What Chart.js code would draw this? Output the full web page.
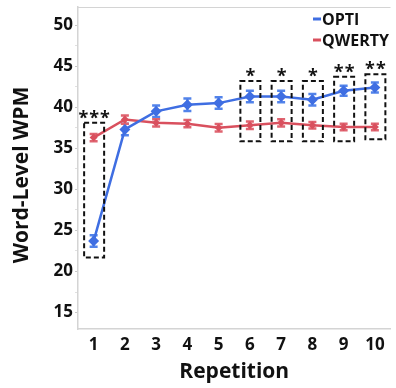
<!DOCTYPE html>
<html>
<head>
<meta charset="utf-8">
<script src="https://cdn.jsdelivr.net/npm/chart.js@4.4.1/dist/chart.umd.min.js"></script>
<style>
  html, body { margin: 0; padding: 0; background: #fff; }
  #wrap { width: 396px; height: 388px; }
</style>
</head>
<body>
<div id="wrap"><canvas id="wpmChart" width="396" height="388"></canvas></div>
<script>
/* Word-level WPM per repetition */
const repetitions = ['1', '2', '3', '4', '5', '6', '7', '8', '9', '10'];
const optiWpm   = [23.7, 37.3, 39.5, 40.3, 40.5, 41.3, 41.3, 40.9, 42.0, 42.4];
const optiErr   = [0.7, 0.7, 0.7, 0.75, 0.7, 0.7, 0.7, 0.7, 0.6, 0.6];
const qwertyWpm = [36.3, 38.5, 38.1, 38.0, 37.5, 37.8, 38.1, 37.8, 37.6, 37.6];
const qwertyErr = [0.45, 0.5, 0.45, 0.45, 0.45, 0.45, 0.45, 0.4, 0.4, 0.4];
const yMajorTicks = [15, 20, 25, 30, 35, 40, 45, 50];
const yMinorTicks = [17.5, 22.5, 27.5, 32.5, 37.5, 42.5, 47.5];
// significance boxes (value range per repetition, null = none)
const sigTop    = [38.1, null, null, null, null, 43.2, 43.2, 43.2, 43.7, 44.0];
const sigBottom = [21.7, null, null, null, null, 35.85, 35.85, 35.85, 35.85, 36.1];
const sigStars  = ['***', '', '', '', '', '*', '*', '*', '**', '**'];
const yTitle = 'Word-Level WPM';

const BLUE = '#3f6ee2';
const RED = '#d9505e';
const FONT = '"Open Sans", "Noto Sans", sans-serif';

const errorBars = {
  id: 'errorBars',
  beforeDatasetsDraw(chart) {
    const ctx = chart.ctx;
    const y = chart.scales.y;
    chart.data.datasets.forEach((ds, i) => {
      const meta = chart.getDatasetMeta(i);
      ctx.save();
      ctx.strokeStyle = ds.errColor;
      ctx.lineWidth = 2.5;
      meta.data.forEach((pt, j) => {
        const v = ds.data[j], e = ds.errors[j];
        const y1 = y.getPixelForValue(v + e), y2 = y.getPixelForValue(v - e);
        ctx.beginPath();
        ctx.moveTo(pt.x, y1); ctx.lineTo(pt.x, y2);
        ctx.moveTo(pt.x - 4, y1); ctx.lineTo(pt.x + 4, y1);
        ctx.moveTo(pt.x - 4, y2); ctx.lineTo(pt.x + 4, y2);
        ctx.stroke();
      });
      ctx.restore();
    });
  }
};

const extras = {
  id: 'extras',
  afterDraw(chart) {
    const ctx = chart.ctx;
    const a = chart.chartArea;
    const x = chart.scales.x, y = chart.scales.y;
    ctx.save();
    // top frame line
    ctx.strokeStyle = '#d4d4d4';
    ctx.lineWidth = 1;
    ctx.beginPath(); ctx.moveTo(a.left, a.top + 0.5); ctx.lineTo(a.right, a.top + 0.5); ctx.stroke();

    // y axis title (sits a bit below the axis centre in the original)
    ctx.save();
    ctx.translate(22, 175);
    ctx.rotate(-Math.PI / 2);
    ctx.font = 'bold 21px ' + FONT;
    ctx.fillStyle = '#111';
    ctx.textAlign = 'center';
    ctx.textBaseline = 'middle';
    ctx.fillText(yTitle, 0, 0);
    ctx.restore();

    // significance boxes + stars
    sigTop.forEach((t, i) => {
      if (t === null) return;
      const cx = x.getPixelForValue(i);
      const top = y.getPixelForValue(t), bot = y.getPixelForValue(sigBottom[i]);
      ctx.strokeStyle = '#111';
      ctx.lineWidth = 2;
      ctx.setLineDash([5, 3]);
      ctx.strokeRect(cx - 9.5, top, 20, bot - top);
      ctx.setLineDash([]);
      ctx.fillStyle = '#111';
      ctx.font = 'bold 18px ' + FONT;
      ctx.textAlign = 'center';
      ctx.textBaseline = 'alphabetic';
      ctx.letterSpacing = '1px';
      ctx.fillText(sigStars[i], cx + 1, top + 1);
      ctx.letterSpacing = '0px';
    });

    // legend
    ctx.font = 'bold 16px ' + FONT;
    ctx.textAlign = 'left';
    ctx.textBaseline = 'middle';
    chart.data.datasets.forEach((ds, i) => {
      const ly = 19 + i * 21;
      ctx.strokeStyle = ds.borderColor;
      ctx.lineWidth = 3;
      ctx.beginPath(); ctx.moveTo(313, ly); ctx.lineTo(321, ly); ctx.stroke();
      ctx.fillStyle = '#111';
      ctx.fillText(ds.label, 322, ly + 1);
    });
    ctx.restore();
  }
};

new Chart(document.getElementById('wpmChart'), {
  type: 'line',
  data: {
    labels: repetitions,
    datasets: [
      { label: 'OPTI', data: optiWpm, errors: optiErr, errColor: '#5283ea', borderColor: BLUE, backgroundColor: BLUE,
        borderWidth: 2.5, pointStyle: 'rectRot', pointRadius: 5.5, pointBorderWidth: 0, tension: 0 },
      { label: 'QWERTY', data: qwertyWpm, errors: qwertyErr, errColor: '#df6470', borderColor: RED, backgroundColor: RED,
        borderWidth: 2.5, pointStyle: 'rectRot', pointRadius: 4, pointBorderWidth: 0, tension: 0 }
    ]
  },
  options: {
    responsive: false,
    animation: false,
    layout: { padding: { top: 7, right: 0, left: 0, bottom: 0 } },
    plugins: { legend: { display: false }, tooltip: { enabled: false } },
    scales: {
      x: {
        type: 'category',
        offset: true,
        grid: { display: false, drawTicks: false },
        border: { display: true, color: '#d4d4d4', width: 1.5 },
        ticks: { color: '#111', padding: 6, font: { family: FONT, size: 17, weight: 'bold' } },
        title: { display: true, text: 'Repetition', color: '#111', padding: { top: 0, bottom: 3 },
          font: { family: FONT, size: 21, weight: 'bold' } },
        afterFit(s) { s.height = 59; s.paddingLeft = 0; s.paddingRight = 0; }
      },
      y: {
        min: 13, max: 52.2,
        afterBuildTicks(s) {
          s.ticks = yMajorTicks.concat(yMinorTicks).sort((p, q) => p - q).map(v => ({ value: v }));
        },
        grid: { drawOnChartArea: false, drawTicks: true, tickLength: 3,
          tickColor: c => yMajorTicks.includes(c.tick && c.tick.value) ? '#c8c8c8' : '#e0e0e0' },
        border: { display: true, color: '#d4d4d4', width: 1.5 },
        ticks: { color: '#111', padding: 2, autoSkip: false,
          font: { family: FONT, size: 17, weight: 'bold' },
          callback: v => yMajorTicks.includes(v) ? String(v) : '' },
        title: { display: false },
        afterFit(s) { s.width = 78; s.paddingTop = 0; s.paddingBottom = 0; }
      }
    }
  },
  plugins: [errorBars, extras]
});
</script>
</body>
</html>
